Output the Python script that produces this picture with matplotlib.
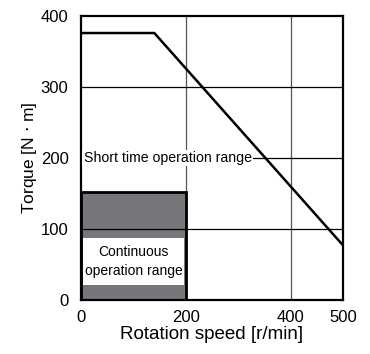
import matplotlib
matplotlib.use("Agg")
import matplotlib.pyplot as plt
from matplotlib.patches import Rectangle

plt.rcParams['font.family'] = ['Liberation Sans', 'DejaVu Sans']

# short time operation limit (speed, torque)
speed = [0, 140, 500]
torque = [376, 376, 77]

# continuous operation range
cont_speed = 200
cont_torque = 152

xticks = [0, 200, 400, 500]
yticks = [0, 100, 200, 300, 400]

fig = plt.figure(figsize=(3.70, 3.54), dpi=100)
ax = fig.add_axes([81/370, 54/354, 262/370, 284/354])

ax.set_xlim(0, 500)
ax.set_ylim(0, 400)

# grid
for gx in [200, 400]:
    ax.axvline(gx, color='#555555', lw=0.9, zorder=1)
for gy in [100, 200, 300]:
    ax.axhline(gy, color='black', lw=0.9, zorder=1)

# continuous range box
ax.add_patch(Rectangle((0, 0), cont_speed, cont_torque, facecolor='#77777b',
                       edgecolor='black', lw=2, zorder=2))
ax.axhline(100, xmax=cont_speed/500, color='black', lw=0.9, zorder=3)
ax.add_patch(Rectangle((4, 21), 193, 66, facecolor='white', edgecolor='none', zorder=3))
ax.text(100, 54, 'Continuous\noperation range', ha='center', va='center',
        fontsize=10, linespacing=1.4, zorder=4)

ax.plot(speed, torque, color='black', lw=1.8, zorder=5, solid_joinstyle='miter')

ax.text(5, 200, 'Short time operation range', ha='left', va='center', fontsize=10.2,
        zorder=4, bbox=dict(facecolor='white', edgecolor='none', pad=1))

ax.set_xticks(xticks)
ax.set_yticks(yticks)
ax.tick_params(length=0, labelsize=12)
ax.tick_params(axis='x', pad=7)
ax.tick_params(axis='y', pad=9)
ax.set_xlabel('Rotation speed [r/min]', fontsize=13.5, labelpad=1)
ax.set_ylabel('Torque [N $\\cdot$ m]', fontsize=12.5, labelpad=1)
for s in ax.spines.values():
    s.set_linewidth(1.6)

fig.savefig('out.png', dpi=100)
